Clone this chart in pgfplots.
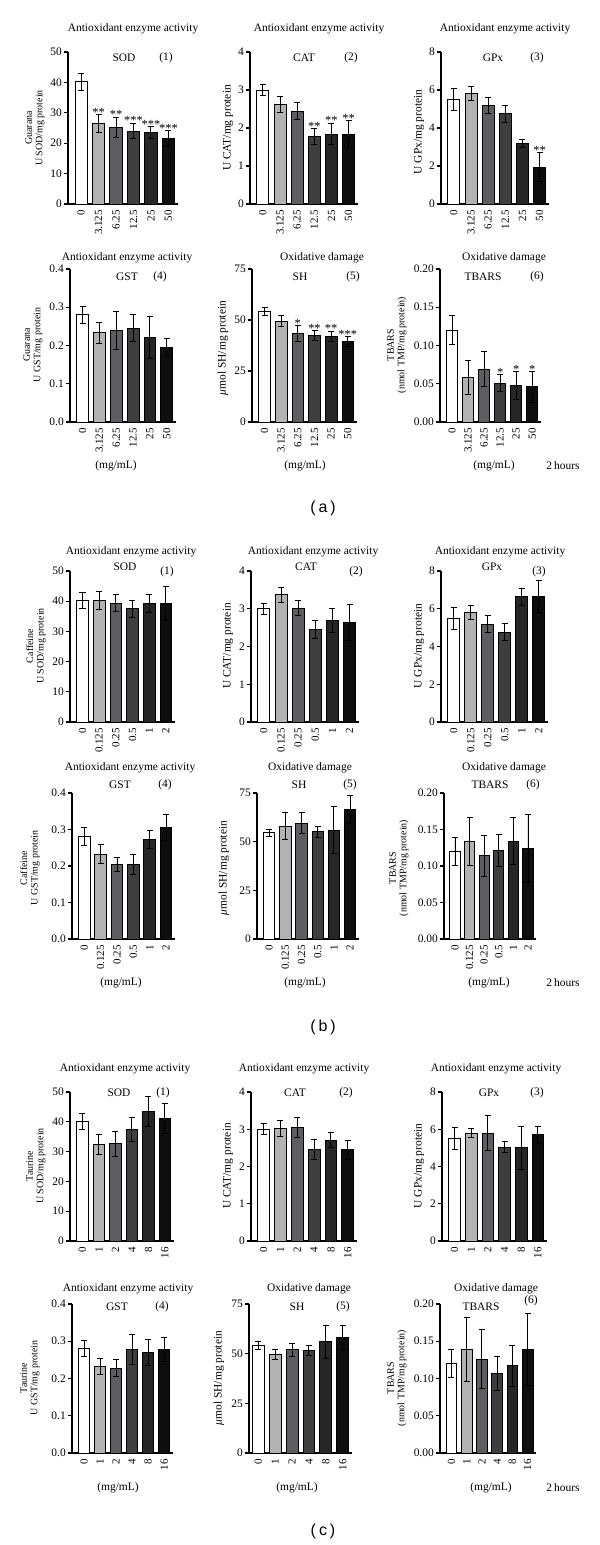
\documentclass[border=0pt]{standalone}
\usepackage{fontspec}
\setmainfont{Liberation Serif}
\newfontfamily\sansf{Liberation Sans}
\usepackage{pgfplots}
\pgfplotsset{compat=1.18}
\definecolor{g1}{HTML}{B2B2B2}
\definecolor{g2}{HTML}{5E5E62}
\definecolor{g3}{HTML}{3E3E3E}
\definecolor{g4}{HTML}{262626}
\definecolor{g5}{HTML}{0E0E0E}
\newcommand\fh{\fontsize{11.5}{12}\selectfont}
\newcommand\fr{\fontsize{11}{11}\selectfont}
\newcommand\fy{\fontsize{11.5}{12}\selectfont}
\newcommand\fd{\fontsize{10}{10.5}\selectfont}
\newcommand\fs{\fontsize{12.5}{12}\selectfont}
\pgfplotsset{
  sub/.style={scale only axis, anchor=south west,
    axis lines*=left, axis line style={-, line width=1.1bp, black},
    xmin=-0.75, xmax=5.55, ymin=0, xtick={0,1,2,3,4,5},
    tick align=outside, major tick length=4bp,
    x tick style={draw=none}, y tick style={line width=1.1bp, black},
    xticklabel style={rotate=90, anchor=east, font=\fr, inner sep=2bp},
    yticklabel style={font=\fh, inner sep=2bp},
    /pgf/number format/assume math mode=true,
    clip=false},
  bb/.style={ybar, bar shift=0pt, bar width=0.7, draw=black, line width=0.9bp, fill=#1,
    error bars/.cd, y dir=both, y explicit,
    error bar style={line width=0.9bp, black, solid},
    error mark options={rotate=90, mark size=3bp, line width=0.9bp, black}},
  sod/.style={ymax=50, ytick={0,10,20,30,40,50}},
  cat/.style={ymax=4, ytick={0,1,2,3,4}},
  gpx/.style={ymax=8, ytick={0,2,4,6,8}},
  gst/.style={ymax=0.4, ytick={0,0.1,0.2,0.3,0.4}, yticklabels={0.0,0.1,0.2,0.3,0.4}},
  sh/.style={ymax=75, ytick={0,25,50,75}},
  tb/.style={ymax=0.2, ytick={0,0.05,0.1,0.15,0.2}, yticklabels={0.00,0.05,0.10,0.15,0.20}},
  xa/.style={xticklabels={0,3.125,6.25,12.5,25,50}},
  xb/.style={xticklabels={0,0.125,0.25,0.5,1,2}},
  xc/.style={xticklabels={0,1,2,4,8,16}},
}
\newcommand{\BB}[4]{\addplot[bb=#1] coordinates {(#2,#3) +- (0,#4)};}
\newcommand{\St}[3]{\node[font=\fs, anchor=base, inner sep=0pt, yshift=-1.5bp] at (axis cs:#1,#2) {#3};}
\begin{document}
\begin{tikzpicture}
\fill[white] (0bp,0bp) rectangle (600bp,-1545bp);
\path[use as bounding box] (0bp,0bp) rectangle (600bp,-1545bp);

% ================= PANEL A (Guarana) =================
\begin{axis}[sub, sod, xa, at={(68bp,-204bp)}, width=110bp, height=152bp]
\BB{white}{0}{40.2}{2.7}\BB{g1}{1}{26.5}{2.8}\BB{g2}{2}{25.3}{3.3}
\BB{g3}{3}{24.0}{2.6}\BB{g4}{4}{23.4}{2.0}\BB{g5}{5}{21.5}{2.6}
\St{1}{29.3}{**}\St{2}{28.6}{**}\St{3}{26.6}{***}\St{4}{25.4}{***}\St{5}{24.1}{***}
\end{axis}
\begin{axis}[sub, cat, xa, at={(250bp,-204bp)}, width=108bp, height=152bp]
\BB{white}{0}{3.0}{0.15}\BB{g1}{1}{2.62}{0.2}\BB{g2}{2}{2.44}{0.22}
\BB{g3}{3}{1.78}{0.2}\BB{g4}{4}{1.84}{0.28}\BB{g5}{5}{1.82}{0.37}
\St{3}{1.98}{**}\St{4}{2.12}{**}\St{5}{2.19}{**}
\end{axis}
\begin{axis}[sub, gpx, xa, at={(441bp,-204bp)}, width=108bp, height=152bp]
\BB{white}{0}{5.5}{0.58}\BB{g1}{1}{5.8}{0.37}\BB{g2}{2}{5.18}{0.44}
\BB{g3}{3}{4.75}{0.45}\BB{g4}{4}{3.2}{0.2}\BB{g5}{5}{1.95}{0.75}
\St{5}{2.7}{**}
\end{axis}
\begin{axis}[sub, gst, xa, at={(70bp,-422bp)}, width=106bp, height=153bp]
\BB{white}{0}{0.28}{0.022}\BB{g1}{1}{0.233}{0.027}\BB{g2}{2}{0.24}{0.049}
\BB{g3}{3}{0.245}{0.035}\BB{g4}{4}{0.222}{0.055}\BB{g5}{5}{0.196}{0.022}
\end{axis}
\begin{axis}[sub, sh, xa, at={(252bp,-422bp)}, width=105bp, height=153bp]
\BB{white}{0}{54}{2}\BB{g1}{1}{49.5}{2.5}\BB{g2}{2}{43.5}{3.8}
\BB{g3}{3}{42.5}{2.3}\BB{g4}{4}{42}{2.5}\BB{g5}{5}{39.5}{2.3}
\St{2}{47.3}{*}\St{3}{44.8}{**}\St{4}{44.5}{**}\St{5}{41.8}{***}
\end{axis}
\begin{axis}[sub, tb, xa, at={(440bp,-422bp)}, width=101bp, height=153bp]
\BB{white}{0}{0.12}{0.019}\BB{g1}{1}{0.058}{0.022}\BB{g2}{2}{0.069}{0.023}
\BB{g3}{3}{0.051}{0.011}\BB{g4}{4}{0.048}{0.018}\BB{g5}{5}{0.046}{0.02}
\St{3}{0.062}{*}\St{4}{0.066}{*}\St{5}{0.066}{*}
\end{axis}
% texts A
\node[font=\fh] at (133bp,-29bp) {Antioxidant enzyme activity};
\node[font=\fh] at (319bp,-29bp) {Antioxidant enzyme activity};
\node[font=\fh] at (505bp,-29bp) {Antioxidant enzyme activity};
\node[font=\fh] at (124bp,-58bp) {SOD};\node[font=\fh] at (166bp,-58bp) {(1)};
\node[font=\fh] at (304bp,-58bp) {CAT};\node[font=\fh] at (351bp,-58bp) {(2)};
\node[font=\fh] at (493bp,-58bp) {GPx};\node[font=\fh] at (537bp,-58bp) {(3)};
\node[font=\fd, rotate=90, align=center] at (35bp,-128bp) {Guarana\\U SOD/mg protein};
\node[font=\fy, rotate=90] at (228bp,-128bp) {U CAT/mg protein};
\node[font=\fy, rotate=90] at (419bp,-132bp) {U GPx/mg protein};
\node[font=\fh] at (127bp,-258bp) {Antioxidant enzyme activity};
\node[font=\fh] at (322bp,-258bp) {Oxidative damage};
\node[font=\fh] at (504bp,-258bp) {Oxidative damage};
\node[font=\fh] at (127bp,-277bp) {GST};\node[font=\fh] at (160bp,-277bp) {(4)};
\node[font=\fh] at (300bp,-277bp) {SH};\node[font=\fh] at (353bp,-277bp) {(5)};
\node[font=\fh] at (483bp,-277bp) {TBARS};\node[font=\fh] at (537bp,-277bp) {(6)};
\node[font=\fd, rotate=90, align=center] at (33bp,-345bp) {Guarana\\U GST/mg protein};
\node[font=\fy, rotate=90] at (223bp,-348bp) {{\itshape μ}mol SH/mg protein};
\node[font=\fd, rotate=90, align=center] at (397bp,-345bp) {TBARS\\(nmol TMP/mg protein)};
\node[font=\fh] at (116bp,-466bp) {(mg/mL)};
\node[font=\fh] at (305bp,-466bp) {(mg/mL)};
\node[font=\fh] at (494bp,-466bp) {(mg/mL)};
\node[font=\fh] at (563bp,-466bp) {2\,hours};
\node[font=\sansf\fontsize{16}{16}\selectfont] at (323bp,-508bp) {(\hspace{3bp}a\hspace{3bp})};

% ================= PANEL B (Caffeine) =================
\begin{axis}[sub, sod, xb, at={(70bp,-722bp)}, width=105bp, height=151bp]
\BB{white}{0}{40.2}{2.7}\BB{g1}{1}{40.2}{3}\BB{g2}{2}{39.4}{2.8}
\BB{g3}{3}{37.5}{2.8}\BB{g4}{4}{39.4}{3}\BB{g5}{5}{39.2}{5.6}
\end{axis}
\begin{axis}[sub, cat, xb, at={(251bp,-722bp)}, width=108bp, height=151bp]
\BB{white}{0}{3.0}{0.15}\BB{g1}{1}{3.37}{0.19}\BB{g2}{2}{3.02}{0.2}
\BB{g3}{3}{2.45}{0.23}\BB{g4}{4}{2.7}{0.32}\BB{g5}{5}{2.64}{0.48}
\end{axis}
\begin{axis}[sub, gpx, xb, at={(441bp,-722bp)}, width=107bp, height=151bp]
\BB{white}{0}{5.5}{0.58}\BB{g1}{1}{5.8}{0.37}\BB{g2}{2}{5.18}{0.44}
\BB{g3}{3}{4.75}{0.45}\BB{g4}{4}{6.65}{0.45}\BB{g5}{5}{6.65}{0.85}
\end{axis}
\begin{axis}[sub, gst, xb, at={(72bp,-939bp)}, width=103bp, height=146bp]
\BB{white}{0}{0.28}{0.025}\BB{g1}{1}{0.233}{0.027}\BB{g2}{2}{0.204}{0.02}
\BB{g3}{3}{0.204}{0.027}\BB{g4}{4}{0.272}{0.025}\BB{g5}{5}{0.305}{0.035}
\end{axis}
\begin{axis}[sub, sh, xb, at={(257bp,-939bp)}, width=102bp, height=146bp]
\BB{white}{0}{54.5}{2}\BB{g1}{1}{58}{7}\BB{g2}{2}{59.5}{5.5}
\BB{g3}{3}{55}{3}\BB{g4}{4}{56}{12}\BB{g5}{5}{66.5}{7}
\end{axis}
\begin{axis}[sub, tb, xb, at={(444bp,-939bp)}, width=92bp, height=146bp]
\BB{white}{0}{0.12}{0.019}\BB{g1}{1}{0.134}{0.033}\BB{g2}{2}{0.114}{0.028}
\BB{g3}{3}{0.121}{0.022}\BB{g4}{4}{0.134}{0.032}\BB{g5}{5}{0.124}{0.047}
\end{axis}
% texts B
\node[font=\fh] at (131bp,-552bp) {Antioxidant enzyme activity};
\node[font=\fh] at (313bp,-552bp) {Antioxidant enzyme activity};
\node[font=\fh] at (500bp,-552bp) {Antioxidant enzyme activity};
\node[font=\fh] at (125bp,-567bp) {SOD};\node[font=\fh] at (167bp,-572bp) {(1)};
\node[font=\fh] at (306bp,-567bp) {CAT};\node[font=\fh] at (356bp,-572bp) {(2)};
\node[font=\fh] at (492bp,-567bp) {GPx};\node[font=\fh] at (539bp,-572bp) {(3)};
\node[font=\fd, rotate=90, align=center] at (36bp,-646bp) {Caffeine\\U SOD/mg protein};
\node[font=\fy, rotate=90] at (228bp,-646bp) {U CAT/mg protein};
\node[font=\fy, rotate=90] at (419bp,-646bp) {U GPx/mg protein};
\node[font=\fh] at (130bp,-768bp) {Antioxidant enzyme activity};
\node[font=\fh] at (310bp,-768bp) {Oxidative damage};
\node[font=\fh] at (504bp,-768bp) {Oxidative damage};
\node[font=\fh] at (120bp,-785bp) {GST};\node[font=\fh] at (165bp,-785bp) {(4)};
\node[font=\fh] at (299bp,-785bp) {SH};\node[font=\fh] at (350bp,-785bp) {(5)};
\node[font=\fh] at (490bp,-785bp) {TBARS};\node[font=\fh] at (533bp,-785bp) {(6)};
\node[font=\fd, rotate=90, align=center] at (30bp,-868bp) {Caffeine\\U GST/mg protein};
\node[font=\fy, rotate=90] at (224bp,-868bp) {{\itshape μ}mol SH/mg protein};
\node[font=\fd, rotate=90, align=center] at (399bp,-868bp) {TBARS\\(nmol TMP/mg protein)};
\node[font=\fh] at (121bp,-983bp) {(mg/mL)};
\node[font=\fh] at (305bp,-983bp) {(mg/mL)};
\node[font=\fh] at (489bp,-983bp) {(mg/mL)};
\node[font=\fh] at (563bp,-983bp) {2\,hours};
\node[font=\sansf\fontsize{16}{16}\selectfont] at (323bp,-1027bp) {(\hspace{3bp}b\hspace{3bp})};

% ================= PANEL C (Taurine) =================
\begin{axis}[sub, sod, xc, at={(70bp,-1241bp)}, width=104bp, height=149bp]
\BB{white}{0}{40.2}{2.7}\BB{g1}{1}{32.4}{3.3}\BB{g2}{2}{32.6}{4.2}
\BB{g3}{3}{37.4}{4}\BB{g4}{4}{43.5}{5}\BB{g5}{5}{41}{5}
\end{axis}
\begin{axis}[sub, cat, xc, at={(251bp,-1241bp)}, width=106bp, height=149bp]
\BB{white}{0}{3.0}{0.15}\BB{g1}{1}{3.03}{0.21}\BB{g2}{2}{3.04}{0.27}
\BB{g3}{3}{2.46}{0.26}\BB{g4}{4}{2.71}{0.2}\BB{g5}{5}{2.45}{0.25}
\end{axis}
\begin{axis}[sub, gpx, xc, at={(442bp,-1241bp)}, width=105bp, height=149bp]
\BB{white}{0}{5.5}{0.58}\BB{g1}{1}{5.8}{0.25}\BB{g2}{2}{5.8}{0.95}
\BB{g3}{3}{5.05}{0.3}\BB{g4}{4}{5.0}{1.15}\BB{g5}{5}{5.7}{0.45}
\end{axis}
\begin{axis}[sub, gst, xc, at={(72bp,-1453bp)}, width=101bp, height=149bp]
\BB{white}{0}{0.28}{0.022}\BB{g1}{1}{0.233}{0.022}\BB{g2}{2}{0.228}{0.023}
\BB{g3}{3}{0.279}{0.04}\BB{g4}{4}{0.27}{0.036}\BB{g5}{5}{0.278}{0.032}
\end{axis}
\begin{axis}[sub, sh, xc, xmin=-0.55, at={(249bp,-1453bp)}, width=103bp, height=149bp]
\BB{white}{0}{54}{2}\BB{g1}{1}{49.5}{2.5}\BB{g2}{2}{52}{3.3}
\BB{g3}{3}{51.8}{2.5}\BB{g4}{4}{56}{8.3}\BB{g5}{5}{58.3}{6}
\end{axis}
\begin{axis}[sub, tb, xc, at={(440bp,-1453bp)}, width=96bp, height=149bp]
\BB{white}{0}{0.12}{0.019}\BB{g1}{1}{0.139}{0.043}\BB{g2}{2}{0.126}{0.04}
\BB{g3}{3}{0.107}{0.023}\BB{g4}{4}{0.117}{0.028}\BB{g5}{5}{0.139}{0.048}
\end{axis}
% texts C
\node[font=\fh] at (125bp,-1069bp) {Antioxidant enzyme activity};
\node[font=\fh] at (304bp,-1069bp) {Antioxidant enzyme activity};
\node[font=\fh] at (496bp,-1069bp) {Antioxidant enzyme activity};
\node[font=\fh] at (119bp,-1093bp) {SOD};\node[font=\fh] at (163bp,-1093bp) {(1)};
\node[font=\fh] at (295bp,-1093bp) {CAT};\node[font=\fh] at (346bp,-1093bp) {(2)};
\node[font=\fh] at (489bp,-1093bp) {GPx};\node[font=\fh] at (537bp,-1093bp) {(3)};
\node[font=\fd, rotate=90, align=center] at (36bp,-1166bp) {Taurine\\U SOD/mg protein};
\node[font=\fy, rotate=90] at (228bp,-1166bp) {U CAT/mg protein};
\node[font=\fy, rotate=90] at (419bp,-1166bp) {U GPx/mg protein};
\node[font=\fh] at (128bp,-1289bp) {Antioxidant enzyme activity};
\node[font=\fh] at (309bp,-1289bp) {Oxidative damage};
\node[font=\fh] at (496bp,-1289bp) {Oxidative damage};
\node[font=\fh] at (117bp,-1307bp) {GST};\node[font=\fh] at (162bp,-1307bp) {(4)};
\node[font=\fh] at (297bp,-1307bp) {SH};\node[font=\fh] at (343bp,-1307bp) {(5)};
\node[font=\fh] at (481bp,-1307bp) {TBARS};\node[font=\fh] at (531bp,-1301bp) {(6)};
\node[font=\fd, rotate=90, align=center] at (30bp,-1378bp) {Taurine\\U GST/mg protein};
\node[font=\fy, rotate=90] at (219bp,-1378bp) {{\itshape μ}mol SH/mg protein};
\node[font=\fd, rotate=90, align=center] at (397bp,-1378bp) {TBARS\\(nmol TMP/mg protein)};
\node[font=\fh] at (118bp,-1488bp) {(mg/mL)};
\node[font=\fh] at (297bp,-1488bp) {(mg/mL)};
\node[font=\fh] at (491bp,-1488bp) {(mg/mL)};
\node[font=\fh] at (563bp,-1488bp) {2\,hours};
\node[font=\sansf\fontsize{16}{16}\selectfont] at (323bp,-1531bp) {(\hspace{3bp}c\hspace{3bp})};
\end{tikzpicture}
\end{document}
